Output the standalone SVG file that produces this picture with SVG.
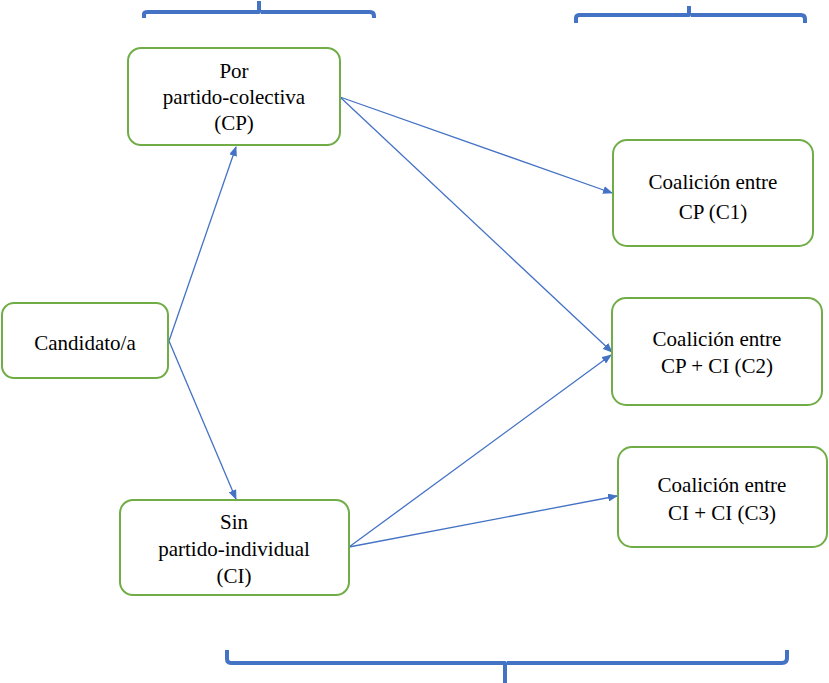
<svg xmlns="http://www.w3.org/2000/svg" width="829" height="683" viewBox="0 0 829 683">
<defs>
<marker id="ah" markerWidth="10" markerHeight="8" refX="9" refY="4" orient="auto" markerUnits="userSpaceOnUse">
<path d="M0,0 L10,4 L0,8 Z" fill="#4472C4"/>
</marker>
<style>
.box{fill:#fff;stroke:#70AD47;stroke-width:2}
.t{font-family:'Liberation Serif','Tinos','Times New Roman','DejaVu Serif',serif;font-size:21px;fill:#000;text-anchor:middle}
.c{stroke:#4472C4;stroke-width:1.3;fill:none}
.br{stroke:#4472C4;stroke-width:4;fill:none;stroke-linejoin:round}
</style>
</defs>
<rect width="829" height="683" fill="#fff"/>
<g id="braces">
<path class="br" d="M144,18 V14 Q144,12 148,12 H259 V1 M261,12 H370 Q374,12 374,16 V18"/>
<path class="br" d="M576,23 V18 Q576,15 580,15 H689 V6 M691,15 H801 Q805,15 805,19 V23"/>
<path class="br" d="M227,650 V659 Q227,663 232,663 H505 V683 M507,663 H782 Q787,663 787,658 V650"/>
</g>
<g id="connectors">
<line class="c" x1="169" y1="341" x2="236" y2="147" marker-end="url(#ah)"/>
<line class="c" x1="169" y1="341" x2="236" y2="499" marker-end="url(#ah)"/>
<line class="c" x1="340" y1="97" x2="612" y2="193" marker-end="url(#ah)"/>
<line class="c" x1="340" y1="97" x2="612" y2="352" marker-end="url(#ah)"/>
<line class="c" x1="349" y1="547" x2="611" y2="355" marker-end="url(#ah)"/>
<line class="c" x1="349" y1="547" x2="617" y2="496" marker-end="url(#ah)"/>
</g>
<g id="cp">
<rect class="box" x="128" y="48" width="212" height="97" rx="13"/>
<text class="t" x="234" y="78">Por</text>
<text class="t" x="234" y="104">partido-colectiva</text>
<text class="t" x="234" y="130">(CP)</text>
</g>
<g id="candidato">
<rect class="box" x="2" y="303" width="166" height="75" rx="12"/>
<text class="t" x="85" y="350">Candidato/a</text>
</g>
<g id="ci">
<rect class="box" x="120" y="500" width="229" height="95" rx="13"/>
<text class="t" x="234" y="529">Sin</text>
<text class="t" x="234" y="556">partido-individual</text>
<text class="t" x="234" y="583">(CI)</text>
</g>
<g id="c1">
<rect class="box" x="613" y="140" width="200" height="106" rx="14"/>
<text class="t" x="713" y="189">Coalición entre</text>
<text class="t" x="713" y="219">CP (C1)</text>
</g>
<g id="c2">
<rect class="box" x="612" y="298" width="210" height="107" rx="14"/>
<text class="t" x="717" y="346">Coalición entre</text>
<text class="t" x="717" y="373">CP + CI (C2)</text>
</g>
<g id="c3">
<rect class="box" x="618" y="447" width="209" height="100" rx="14"/>
<text class="t" x="722" y="492">Coalición entre</text>
<text class="t" x="722" y="520">CI + CI (C3)</text>
</g>
</svg>
